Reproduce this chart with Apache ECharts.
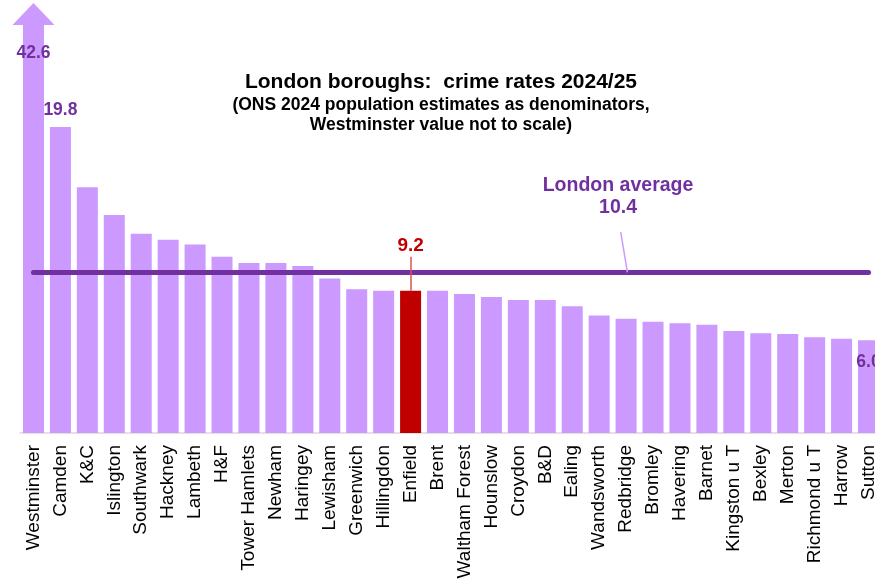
<!DOCTYPE html>
<html>
<head>
<meta charset="utf-8">
<script src="https://cdn.jsdelivr.net/npm/echarts@6/dist/echarts.min.js"></script>
<style>
  html, body { margin: 0; padding: 0; background: #fff; overflow: hidden; }
  /* a bit wider than the window: the last bar is cut off at the right edge */
  #chart { width: 882px; height: 584px; }
</style>
</head>
<body>
<div id="chart"></div>
<script>
// boroughs, sorted by crime rate
var boroughs = ['Westminster', 'Camden', 'K&C', 'Islington', 'Southwark', 'Hackney', 'Lambeth', 'H&F',
  'Tower Hamlets', 'Newham', 'Haringey', 'Lewisham', 'Greenwich', 'Hillingdon', 'Enfield', 'Brent',
  'Waltham Forest', 'Hounslow', 'Croydon', 'B&D', 'Ealing', 'Wandsworth', 'Redbridge', 'Bromley',
  'Havering', 'Barnet', 'Kingston u T', 'Bexley', 'Merton', 'Richmond u T', 'Harrow', 'Sutton'];
var rates = [42.6, 19.8, 15.9, 14.1, 12.9, 12.5, 12.2, 11.4,
  11.0, 11.0, 10.8, 10.0, 9.3, 9.2, 9.2, 9.2,
  9.0, 8.8, 8.6, 8.6, 8.2, 7.6, 7.4, 7.2,
  7.1, 7.0, 6.6, 6.45, 6.4, 6.2, 6.1, 6.0];
var londonAverage = [10.4];
var highlight = ['Enfield'];
var axisCap = [26.4]; // Westminster drawn off scale

var FONT = 'Liberation Sans, Arial, sans-serif';
var PURPLE = '#7030A0';
var LILAC = '#CC99FF';
var RED = '#C00000';

var myChart = echarts.init(document.getElementById('chart'));

function fmt(p){
	return p.value.toFixed(1);
}

function labelFor(name){
	if(name==='Westminster'){
		return { show: true, position: 'insideTop', distance: 19, formatter: fmt, color: PURPLE, fontWeight: 'bold', fontSize: 17.5, fontFamily: FONT };
	}
	if(name==='Camden'){
		return { show: true, position: 'top', distance: 8, formatter: fmt, color: PURPLE, fontWeight: 'bold', fontSize: 17.5, fontFamily: FONT };
	}
	if(name==='Sutton'){
		return { show: true, position: 'insideTop', distance: 13, formatter: fmt, color: PURPLE, fontWeight: 'bold', fontSize: 17.5, fontFamily: FONT };
	}
	if(highlight.indexOf(name)>=0){
		return { show: true, position: 'top', distance: 36, formatter: fmt, color: RED, fontWeight: 'bold', fontSize: 19, fontFamily: FONT };
	}
	return { show: false };
}

var barData = rates.map(function(v, i){
	var item = { value: v, label: labelFor(boroughs[i]) };
	if(highlight.indexOf(boroughs[i])>=0){
		item.itemStyle = { color: RED };
	}
	return item;
});

var hi = boroughs.indexOf(highlight[0]);
var last = boroughs.length - 1;

var option = {
	animation: false,
	title: {
		left: 'center',
		top: 67,
		padding: [5, 17, 5, 5],
		text: 'London boroughs:  crime rates 2024/25',
		textStyle: { fontFamily: FONT, fontSize: 21, fontWeight: 'bold', color: '#000' },
		subtext: '(ONS 2024 population estimates as denominators,\nWestminster value not to scale)',
		subtextStyle: { fontFamily: FONT, fontSize: 17.5, fontWeight: 'bold', color: '#000', lineHeight: 20 },
		itemGap: 2
	},
	grid: { left: 20, top: 25, right: 0, bottom: 151, containLabel: false },
	xAxis: [{
		type: 'category',
		data: boroughs,
		axisTick: { show: false },
		axisLine: { lineStyle: { color: '#d9d9d9', width: 1.5 } },
		axisLabel: { rotate: 90, interval: 0, margin: 12, fontSize: 19, color: '#000', fontFamily: FONT }
	}, {
		type: 'value',
		min: -0.5,
		max: boroughs.length - 0.5,
		show: false
	}],
	yAxis: {
		type: 'value',
		min: 0,
		max: axisCap[0],
		show: false,
		splitLine: { show: false }
	},
	series: [{
		type: 'bar',
		data: barData,
		barCategoryGap: '22%',
		itemStyle: { color: LILAC },
		clip: true,
		markLine: {
			silent: true,
			symbol: 'none',
			label: { show: false },
			data: [
				[{ coord: [0, londonAverage[0]], lineStyle: { color: PURPLE, width: 5, type: 'solid', cap: 'round' } },
				 { coord: [last, londonAverage[0]] }],
				[{ coord: [hi, rates[hi]], lineStyle: { color: '#D9534F', width: 1.5, type: 'solid' } },
				 { coord: [hi, 11.4] }]
			]
		},
		z: 2
	}, {
		type: 'scatter',
		xAxisIndex: 1,
		yAxisIndex: 0,
		data: [],
		clip: false,
		z: 3,
		markPoint: {
			silent: true,
			data: [
				{ coord: [0, axisCap[0]], symbol: 'triangle', symbolSize: [42, 22], symbolOffset: [0, -11],
				  itemStyle: { color: LILAC }, label: { show: false } },
				{ coord: [21.7, 15.3], symbol: 'circle', symbolSize: 0,
				  label: { show: true, position: 'inside', formatter: 'London average\n' + londonAverage[0].toFixed(1),
				    color: PURPLE, fontWeight: 'bold', fontSize: 19.5, lineHeight: 22, fontFamily: FONT } }
			]
		},
		markLine: {
			silent: true,
			symbol: 'none',
			label: { show: false },
			lineStyle: { color: LILAC, width: 1.5, type: 'solid' },
			data: [
				[{ coord: [21.8, 13.0] }, { coord: [22.05, londonAverage[0]] }]
			]
		}
	}]
};
myChart.setOption(option);
</script>
</body>
</html>
